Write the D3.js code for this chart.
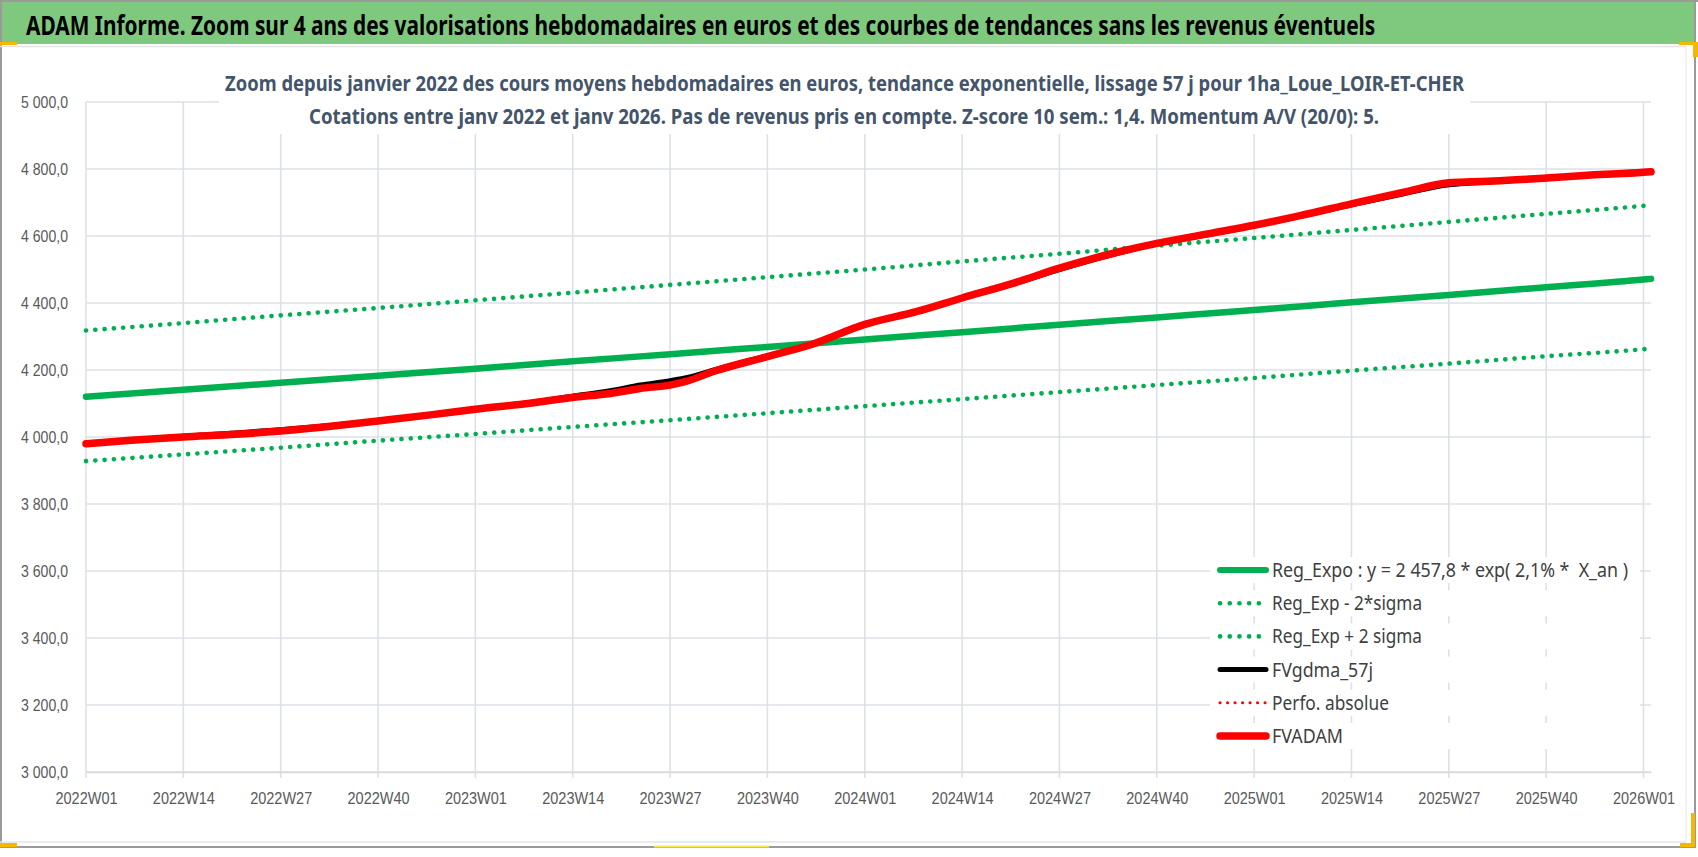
<!DOCTYPE html>
<html>
<head>
<meta charset="utf-8">
<script src="https://cdn.jsdelivr.net/npm/d3@7"></script>
<style>
  body { margin: 0; background: #fff; }
  svg { display: block; font-family: "Liberation Sans Narrow", "Arial Narrow", "Noto Sans", sans-serif; }
  .grid line { stroke: #dde1e7; stroke-width: 1.6; }
  .axis-txt { fill: #595959; font-size: 16px; }
  .legend-txt { fill: #404040; font-size: 20px; white-space: pre; }
</style>
</head>
<body>
<script>
const width = 1698;
const height = 857;

// catégories (index de semaine) et étiquettes d'axe
const tickLabels = ["2022W01", "2022W14", "2022W27", "2022W40", "2023W01", "2023W14", "2023W27", "2023W40",
  "2024W01", "2024W14", "2024W27", "2024W40", "2025W01", "2025W14", "2025W27", "2025W40", "2026W01"];
const tickWeeks = [0, 13, 26, 39, 52, 65, 78, 91, 104, 117, 130, 143, 156, 169, 182, 195, 208];
const yTicks = [3000, 3200, 3400, 3600, 3800, 4000, 4200, 4400, 4600, 4800, 5000];

// tendances
const trendWeeks = [0, 13, 26, 39, 52, 65, 78, 91, 104, 117, 130, 143, 156, 169, 182, 195, 208, 209];
const regExpo = [4120, 4141, 4162, 4183, 4204, 4226, 4247, 4269, 4291, 4313, 4335, 4357, 4379, 4402, 4424, 4447, 4470, 4472];
const regMinus = [3928, 3948, 3968, 3989, 4009, 4030, 4050, 4071, 4092, 4113, 4134, 4155, 4176, 4198, 4219, 4241, 4262, 4264];
const regPlus = [4318, 4340, 4363, 4385, 4408, 4431, 4454, 4477, 4500, 4524, 4547, 4571, 4594, 4618, 4642, 4666, 4690, 4692];

// FVADAM et FVgdma_57j
const fvWeeks = [0, 6, 13, 20, 26, 33, 39, 46, 52, 59, 65, 70, 74, 78, 80, 84, 91, 97, 104, 111, 117, 124,
  130, 138, 143, 150, 156, 162, 169, 176, 182, 185, 188, 195, 201, 208, 209];
const fvAdam = [3980, 3990, 4000, 4008, 4018, 4033, 4048, 4066, 4083, 4100, 4118, 4130, 4145, 4155, 4165, 4197, 4240, 4277,
  4336, 4375, 4415, 4460, 4504, 4553, 4578, 4607, 4632, 4660, 4696, 4731, 4759, 4762, 4764, 4773, 4782, 4790, 4792];
const fvGdma = [3980, 3991, 4002, 4012, 4022, 4035, 4049, 4066, 4083, 4102, 4122, 4138, 4155, 4168, 4176, 4201, 4242, 4276,
  4334, 4374, 4414, 4458, 4500, 4550, 4576, 4604, 4630, 4658, 4693, 4726, 4753, 4758, 4762, 4771, 4781, 4789, 4791];

const legendLabels = ["Reg_Expo : y = 2 457,8 * exp( 2,1% *  X_an )", "Reg_Exp - 2*sigma", "Reg_Exp + 2 sigma",
  "FVgdma_57j", "Perfo. absolue", "FVADAM"];

// styles de légende (même ordre)
const legendStyles = [
  { color: "#00b050", w: 6, dash: null, tw: 356 },
  { color: "#00b050", w: 4.6, dash: "0.1 9.6", tw: 150 },
  { color: "#00b050", w: 4.6, dash: "0.1 9.6", tw: 150 },
  { color: "#000000", w: 5, dash: null, tw: 101 },
  { color: "#ff0000", w: 3, dash: "0.1 7.4", tw: 117 },
  { color: "#ff0000", w: 7.5, dash: null, tw: 71 }
];

const frLocale = d3.formatLocale({ decimal: ",", thousands: "\u00a0", grouping: [3], currency: ["", " €"] });
const fmt = frLocale.format(",.1f");

const svg = d3.select("body").append("svg")
  .attr("width", width)
  .attr("height", height);

// cadre et bandeau
svg.append("rect").attr("x", 0).attr("y", 0).attr("width", width).attr("height", height).attr("fill", "#fff");
svg.append("rect").attr("x", 1).attr("y", 2).attr("width", width - 4).attr("height", 42).attr("fill", "#7fc97f");
svg.append("line").attr("x1", 0).attr("y1", 1).attr("x2", width).attr("y2", 1).attr("stroke", "#9a9a9a").attr("stroke-width", 2);
svg.append("line").attr("x1", 1).attr("y1", 0).attr("x2", 1).attr("y2", 848).attr("stroke", "#9a9a9a").attr("stroke-width", 2);
svg.append("line").attr("x1", 1695).attr("y1", 0).attr("x2", 1695).attr("y2", 848).attr("stroke", "#9a9a9a").attr("stroke-width", 2);
svg.append("line").attr("x1", 0).attr("y1", 847).attr("x2", 1696).attr("y2", 847).attr("stroke", "#9a9a9a").attr("stroke-width", 2);
svg.append("line").attr("x1", 0).attr("y1", 46.5).attr("x2", 1686).attr("y2", 46.5).attr("stroke", "#e4e4e4").attr("stroke-width", 1.5);
svg.append("line").attr("x1", 0).attr("y1", 842).attr("x2", 1686).attr("y2", 842).attr("stroke", "#e4e4e4").attr("stroke-width", 1.5);
svg.append("line").attr("x1", 1686).attr("y1", 46).attr("x2", 1686).attr("y2", 842).attr("stroke", "#e8e8e8").attr("stroke-width", 1);

// poignées de sélection
svg.append("rect").attr("x", 0).attr("y", 42).attr("width", 17).attr("height", 3).attr("fill", "#f5b800");
svg.append("rect").attr("x", 1679).attr("y", 42).attr("width", 19).attr("height", 3).attr("fill", "#f5b800");
svg.append("rect").attr("x", 1693).attr("y", 42).attr("width", 5).attr("height", 15).attr("fill", "#f5b800");
svg.append("rect").attr("x", 0).attr("y", 843).attr("width", 17).attr("height", 4).attr("fill", "#f5b800");
svg.append("rect").attr("x", 1691).attr("y", 813).attr("width", 4).attr("height", 34).attr("fill", "#f5b800");
svg.append("rect").attr("x", 1680).attr("y", 843).attr("width", 15).attr("height", 4).attr("fill", "#f5b800");
svg.append("rect").attr("x", 654).attr("y", 845.5).attr("width", 115).attr("height", 2).attr("fill", "#ffe84d");

// titre : on le resserre horizontalement pour tenir sur 1350 px
const title = svg.append("text")
  .attr("x", 0).attr("y", 0)
  .attr("font-size", 26).attr("font-weight", "bold").attr("fill", "#000")
  .text("ADAM Informe. Zoom sur 4 ans des valorisations hebdomadaires en euros et des courbes de tendances sans les revenus éventuels");
const titleScale = 1350 / title.node().getComputedTextLength();
title.attr("transform", `translate(26,35) scale(${titleScale},1)`);

// échelles
const xScale = d3.scaleLinear().domain([0, 209]).range([86, 1651]);
const yScale = d3.scaleLinear().domain([3000, 5000]).range([772, 102]);

// grille
const grid = svg.append("g").attr("class", "grid");
grid.selectAll(".hline").data(yTicks).enter().append("line")
  .attr("x1", xScale(0)).attr("x2", xScale(209))
  .attr("y1", d => yScale(d)).attr("y2", d => yScale(d));
grid.selectAll(".vline").data(tickWeeks).enter().append("line")
  .attr("x1", d => xScale(d)).attr("x2", d => xScale(d))
  .attr("y1", yScale(5000)).attr("y2", yScale(3000) + 6);

// axes
const xAxis = d3.axisBottom(xScale)
  .tickValues(tickWeeks)
  .tickFormat((d, i) => tickLabels[i])
  .tickSize(0)
  .tickPadding(21);
const gx = svg.append("g").attr("transform", `translate(0,${yScale(3000)})`).call(xAxis);
gx.select(".domain").attr("stroke", "#d9d9d9").attr("stroke-width", 1.6);
gx.selectAll("text").attr("class", "axis-txt").attr("font-family", null).attr("font-size", null).attr("fill", null)
  .attr("textLength", 62).attr("lengthAdjust", "spacingAndGlyphs");

const yAxis = d3.axisLeft(yScale).tickValues(yTicks).tickFormat(fmt).tickSize(0).tickPadding(18);
const gy = svg.append("g").attr("transform", `translate(${xScale(0)},0)`).call(yAxis);
gy.select(".domain").remove();
gy.selectAll("text").attr("class", "axis-txt").attr("font-family", null).attr("font-size", null).attr("fill", null)
  .attr("textLength", 47).attr("lengthAdjust", "spacingAndGlyphs");

// courbes
const line = d3.line().x(d => xScale(d[0])).y(d => yScale(d[1])).curve(d3.curveMonotoneX);
const zip = (xs, ys) => xs.map((x, i) => [x, ys[i]]);

const plot = svg.append("g").attr("fill", "none").attr("stroke-linecap", "round").attr("stroke-linejoin", "round");
plot.append("path").attr("d", line(zip(trendWeeks, regMinus)))
  .attr("stroke", "#00b050").attr("stroke-width", 4.6).attr("stroke-dasharray", "0.1 9.2");
plot.append("path").attr("d", line(zip(trendWeeks, regPlus)))
  .attr("stroke", "#00b050").attr("stroke-width", 4.6).attr("stroke-dasharray", "0.1 9.2");
plot.append("path").attr("d", line(zip(trendWeeks, regExpo)))
  .attr("stroke", "#00b050").attr("stroke-width", 6.5);
plot.append("path").attr("d", line(zip(fvWeeks, fvGdma)))
  .attr("stroke", "#000").attr("stroke-width", 5);
plot.append("path").attr("d", line(zip(fvWeeks, fvAdam)))
  .attr("stroke", "#ff0000").attr("stroke-width", 7.5);

// bloc titre
const tBox = svg.append("g");
tBox.append("rect").attr("x", 219).attr("y", 62).attr("width", 1251).attr("height", 72).attr("fill", "#fff");
tBox.append("text")
  .attr("x", 844.5).attr("y", 90.5).attr("text-anchor", "middle")
  .attr("font-size", 21).attr("font-weight", "bold").attr("fill", "#44546a")
  .attr("textLength", 1239).attr("lengthAdjust", "spacingAndGlyphs")
  .text("Zoom depuis janvier 2022 des cours moyens hebdomadaires en euros, tendance exponentielle, lissage 57 j pour 1ha_Loue_LOIR-ET-CHER");
tBox.append("text")
  .attr("x", 844).attr("y", 123.5).attr("text-anchor", "middle")
  .attr("font-size", 21).attr("font-weight", "bold").attr("fill", "#44546a")
  .attr("textLength", 1070).attr("lengthAdjust", "spacingAndGlyphs")
  .text("Cotations entre janv 2022 et janv 2026. Pas de revenus pris en compte. Z-score 10 sem.: 1,4. Momentum A/V (20/0): 5.");

// légende
const legendY = d3.scalePoint().domain(legendLabels).range([570, 736]);
const lg = svg.append("g").attr("class", "legend");
const rows = lg.selectAll("g").data(legendLabels).enter().append("g")
  .attr("transform", d => `translate(0,${legendY(d)})`);
rows.append("rect").attr("x", 1210).attr("y", -13).attr("width", 430).attr("height", 26).attr("fill", "#fff");
rows.append("line")
  .attr("x1", 1220).attr("x2", 1266).attr("y1", 0).attr("y2", 0)
  .attr("stroke", (d, i) => legendStyles[i].color).attr("stroke-width", (d, i) => legendStyles[i].w)
  .attr("stroke-linecap", "round")
  .attr("stroke-dasharray", (d, i) => legendStyles[i].dash);
rows.append("text")
  .attr("class", "legend-txt")
  .attr("x", 1272).attr("y", 7)
  .attr("textLength", (d, i) => legendStyles[i].tw).attr("lengthAdjust", "spacingAndGlyphs")
  .text(d => d);
</script>
</body>
</html>
